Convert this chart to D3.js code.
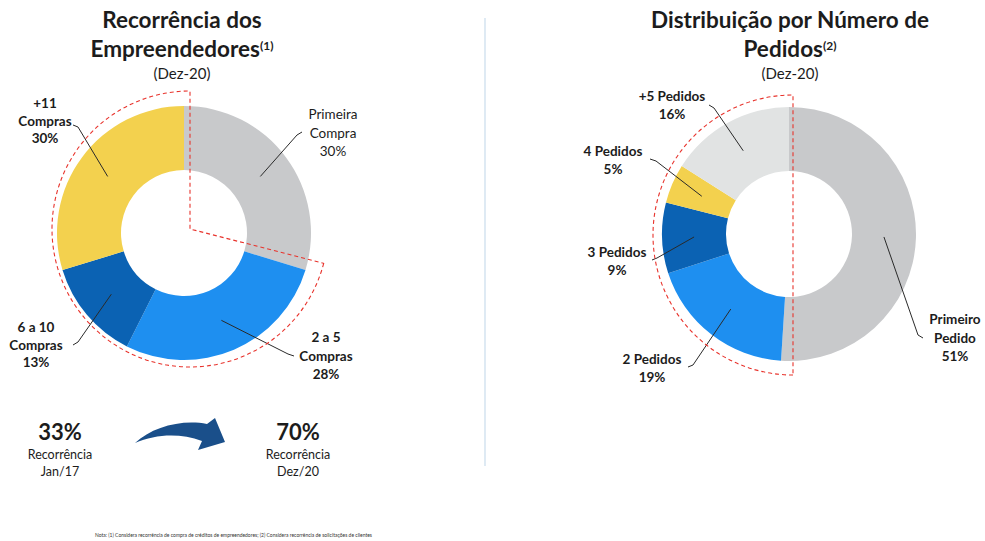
<!DOCTYPE html>
<html>
<head>
<meta charset="utf-8">
<script src="https://cdn.jsdelivr.net/npm/d3@7"></script>
<style>
  html, body { margin: 0; padding: 0; background: #fff; }
  svg { display: block; }
</style>
</head>
<body>
<div class="vis"></div>
<script>
// Recorrência dos Empreendedores (Dez-20)
const recCategories = ['Primeira Compra', '2 a 5 Compras', '6 a 10 Compras', '+11 Compras'];
const recLabels = [['Primeira', 'Compra', '30%'], ['2 a 5', 'Compras', '28%'], ['6 a 10', 'Compras', '13%'], ['+11', 'Compras', '30%']];
const recValues = [30, 28, 13, 30];

// Distribuição por Número de Pedidos (Dez-20)
const pedCategories = ['Primeiro Pedido', '2 Pedidos', '3 Pedidos', '4 Pedidos', '+5 Pedidos'];
const pedLabels = [['Primeiro', 'Pedido', '51%'], ['2 Pedidos', '19%'], ['3 Pedidos', '9%'], ['4 Pedidos', '5%'], ['+5 Pedidos', '16%']];
const pedValues = [51, 19, 9, 5, 16];

// recorrência Jan/17 -> Dez/20
const kpiValues = ['33%', '70%'];
const kpiLabels = [['Recorrência', 'Jan/17'], ['Recorrência', 'Dez/20']];

const FONT = 'Lato, "Open Sans", sans-serif';
const TEXT = '#1c1c1c';

const width = 985, height = 541;
const svg = d3.select('.vis').append('svg')
    .attr('width', width)
    .attr('height', height);

const innerR = 63, outerR = 127;

const drawDonut = (cfg) => {
    const g = svg.append('g')
        .attr('transform', 'translate(' + cfg.cx + ',' + cfg.cy + ')');

    const pie = d3.pie().sort(null).value(d => d);
    const arcs = pie(cfg.values);
    const arc = d3.arc().innerRadius(innerR).outerRadius(outerR);
    const mid = d3.arc().innerRadius(95).outerRadius(95);

    g.selectAll('path.slice')
        .data(arcs)
        .join('path')
        .attr('class', 'slice')
        .attr('d', arc)
        .attr('fill', (d, i) => cfg.colors[i]);

    // leader lines: label hook -> slice centroid
    arcs.forEach((d, i) => {
        const c = mid.centroid(d);
        const lay = cfg.layout[i];
        const p0 = [lay.hx - cfg.cx, lay.hy - cfg.cy];
        const p1 = [p0[0] + lay.dx, p0[1] + lay.dy];
        g.append('path')
            .attr('d', d3.line()([p0, p1, c]))
            .attr('fill', 'none')
            .attr('stroke', '#2a2a2a')
            .attr('stroke-width', 1);

        const t = svg.append('text')
            .attr('x', lay.x)
            .attr('y', lay.y)
            .attr('text-anchor', 'middle')
            .attr('font-family', FONT)
            .attr('font-size', '13.5px')
            .attr('font-weight', lay.bold ? 'bold' : 'normal')
            .attr('fill', TEXT);
        cfg.labels[i].forEach((line, k) => {
            t.append('tspan')
                .attr('x', lay.x)
                .attr('dy', k === 0 ? 0 : lay.lh)
                .text(line);
        });
    });

    // dashed red outline of the recurrence sector
    const dash = d3.arc().innerRadius(0).outerRadius(cfg.dashR)
        .startAngle(cfg.dashStart).endAngle(cfg.dashEnd);
    svg.append('path')
        .attr('transform', 'translate(' + cfg.dcx + ',' + cfg.dcy + ')')
        .attr('d', dash())
        .attr('fill', 'none')
        .attr('stroke', '#e8332c')
        .attr('stroke-width', 1.1)
        .attr('stroke-dasharray', '4,3');
};

drawDonut({
    cx: 184, cy: 233,
    values: recValues,
    labels: recLabels,
    colors: ['#c8c9cb', '#1e8ff0', '#0b62b3', '#f3d14e'],
    layout: [
        { x: 333, y: 119, lh: 18.5, hx: 302, hy: 132, dx: -5, dy: 3, bold: false },
        { x: 326, y: 342, lh: 18.5, hx: 294, hy: 356, dx: -6, dy: -2, bold: true },
        { x: 36, y: 332, lh: 17.5, hx: 73, hy: 345, dx: 5, dy: -3, bold: true },
        { x: 45, y: 108, lh: 17.5, hx: 73, hy: 125, dx: 5, dy: 2, bold: true }
    ],
    dcx: 190, dcy: 229, dashR: 138,
    dashStart: 2 * Math.PI * 0.29, dashEnd: 2 * Math.PI
});

drawDonut({
    cx: 789, cy: 234,
    values: pedValues,
    labels: pedLabels,
    colors: ['#c8c9cb', '#1e8ff0', '#0b62b3', '#f3d14e', '#e1e3e3'],
    layout: [
        { x: 955, y: 324, lh: 18.5, hx: 923, hy: 338, dx: -5, dy: -3, bold: true },
        { x: 652, y: 364, lh: 17.5, hx: 688, hy: 367, dx: 5, dy: -2, bold: true },
        { x: 617, y: 257, lh: 17.5, hx: 652, hy: 260, dx: 5, dy: -2, bold: true },
        { x: 613, y: 156, lh: 17.5, hx: 650, hy: 159, dx: 6, dy: 2, bold: true },
        { x: 672, y: 101, lh: 17.5, hx: 709, hy: 105, dx: 5, dy: 3, bold: true }
    ],
    dcx: 793, dcy: 235, dashR: 140,
    dashStart: Math.PI, dashEnd: 2 * Math.PI
});

// titles
const title = (x, lines, sup, subY) => {
    lines.forEach((line, i) => {
        const t = svg.append('text')
            .attr('x', x)
            .attr('y', 28 + i * 29)
            .attr('text-anchor', 'middle')
            .attr('font-family', FONT)
            .attr('font-size', '22.5px')
            .attr('font-weight', 'bold')
            .attr('fill', TEXT)
            .text(line);
        if (i === lines.length - 1) {
            t.append('tspan')
                .attr('font-size', '12px')
                .attr('dy', -7)
                .text(sup);
        }
    });
    svg.append('text')
        .attr('x', x)
        .attr('y', subY)
        .attr('text-anchor', 'middle')
        .attr('font-family', FONT)
        .attr('font-size', '15px')
        .attr('fill', TEXT)
        .text('(Dez-20)');
};
title(182, ['Recorrência dos', 'Empreendedores'], '(1)', 79);
title(790, ['Distribuição por Número de', 'Pedidos'], '(2)', 79);

// divider
svg.append('line')
    .attr('x1', 485).attr('x2', 485)
    .attr('y1', 18).attr('y2', 466)
    .attr('stroke', '#c9dcec')
    .attr('stroke-width', 1.2);

// recorrência Jan/17 vs Dez/20
const kpiX = [60, 298];
kpiValues.forEach((v, i) => {
    svg.append('text')
        .attr('x', kpiX[i]).attr('y', 440)
        .attr('text-anchor', 'middle')
        .attr('font-family', FONT)
        .attr('font-size', '22px')
        .attr('font-weight', 'bold')
        .attr('fill', TEXT)
        .text(v);
    kpiLabels[i].forEach((line, k) => {
        svg.append('text')
            .attr('x', kpiX[i]).attr('y', 459 + k * 17)
            .attr('text-anchor', 'middle')
            .attr('font-family', FONT)
            .attr('font-size', '12.5px')
            .attr('fill', TEXT)
            .text(line);
    });
});

// curved arrow
svg.append('path')
    .attr('d', 'M135,443 C152,427 182,419 207,424 L215,418 L225,442 L198,450 L202,441 C180,433 156,434 135,443 Z')
    .attr('fill', '#1a4f8a');

// footnote
svg.append('text')
    .attr('x', 95).attr('y', 537)
    .attr('font-family', FONT)
    .attr('font-size', '5.5px')
    .attr('fill', '#333')
    .attr('textLength', 277)
    .attr('lengthAdjust', 'spacingAndGlyphs')
    .text('Nota: (1) Considera recorrência de compra de créditos de empreendedores; (2) Considera recorrência de solicitações de clientes');
</script>
</body>
</html>
